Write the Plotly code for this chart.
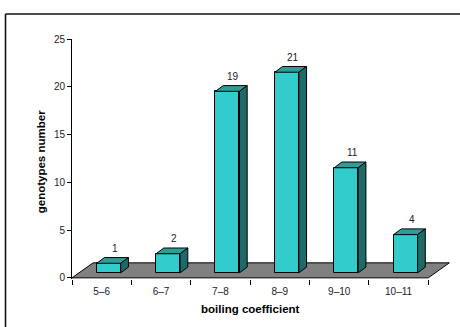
import plotly.graph_objects as go

# Data
categories = ["5–6", "6–7", "7–8", "8–9", "9–10", "10–11"]
counts = [1, 2, 19, 21, 11, 4]
y_ticks = [0, 5, 10, 15, 20, 25]

# Pseudo-3D geometry in axis units
FLOOR_DX, FLOOR_DY = 0.355, 1.57          # floor depth offset
SHIFT_X, SHIFT_Y = FLOOR_DX / 3, FLOOR_DY / 3  # bars stand one third into the floor
BAR_W = 0.404
BAR_DX, BAR_DY = 0.13, 0.6                 # bar depth offset

FRONT = "#33CCCC"
TOP = "#2E9C99"
SIDE = "#1D6A68"
FLOOR = "#808080"
FONT = "Arial, Liberation Sans, sans-serif"

n = len(categories)
centers = [i + 0.5 for i in range(n)]
fx = [c + SHIFT_X for c in centers]

fig = go.Figure()

# front faces
fig.add_trace(go.Bar(
    x=fx, y=counts, base=SHIFT_Y, width=BAR_W,
    marker=dict(color=FRONT, line=dict(color="black", width=1)),
    hoverinfo="skip", showlegend=False,
))

# top and side faces
tx, ty, sx, sy = [], [], [], []
for x, v in zip(fx, counts):
    xl, xr = x - BAR_W / 2, x + BAR_W / 2
    b, t = SHIFT_Y, SHIFT_Y + v
    tx += [xl, xr, xr + BAR_DX, xl + BAR_DX, xl, None]
    ty += [t, t, t + BAR_DY, t + BAR_DY, t, None]
    sx += [xr, xr, xr + BAR_DX, xr + BAR_DX, xr, None]
    sy += [b, t, t + BAR_DY, b + BAR_DY, b, None]

fig.add_trace(go.Scatter(x=tx, y=ty, mode="lines", fill="toself", fillcolor=TOP,
                         line=dict(color="black", width=1), hoverinfo="skip", showlegend=False))
fig.add_trace(go.Scatter(x=sx, y=sy, mode="lines", fill="toself", fillcolor=SIDE,
                         line=dict(color="black", width=1), hoverinfo="skip", showlegend=False))

# value labels
for x, v in zip(fx, counts):
    fig.add_annotation(x=x + 0.1, y=SHIFT_Y + v + BAR_DY + 0.95, text=str(v),
                       showarrow=False, yanchor="middle", xanchor="center",
                       font=dict(family=FONT, size=10, color="#222"))

# floor
floor_path = "M {} 0 L {} 0 L {} {} L {} {} Z".format(
    0, n, n + FLOOR_DX, FLOOR_DY, FLOOR_DX, FLOOR_DY)
shapes = [dict(type="path", path=floor_path, xref="x", yref="y",
               fillcolor=FLOOR, line=dict(color="black", width=1), layer="below")]

# outer frame (top and left edges)
L, R, T, B = 72, 8, 39, 48
PW, PH = 460 - L - R, 327 - T - B
px = lambda p: (p - L) / PW
py = lambda p: 1 + (T - p) / PH
shapes.append(dict(type="line", xref="paper", yref="paper",
                   x0=px(5.5), x1=px(470), y0=py(14), y1=py(14),
                   line=dict(color="#111", width=1.6)))
shapes.append(dict(type="line", xref="paper", yref="paper",
                   x0=px(5.5), x1=px(5.5), y0=py(14), y1=py(340),
                   line=dict(color="#111", width=1.6)))

# axis titles
fig.add_annotation(x=n / 2, xref="x", y=py(309), yref="paper",
                   text="<b>boiling coefficient</b>", showarrow=False,
                   xanchor="center", yanchor="middle",
                   font=dict(family=FONT, size=11.5, color="black"))
fig.add_annotation(x=px(41), xref="paper", y=12.1, yref="y",
                   text="<b>genotypes number</b>", showarrow=False, textangle=-90,
                   xanchor="center", yanchor="middle",
                   font=dict(family=FONT, size=11.5, color="black"))

fig.update_layout(
    width=460, height=327,
    margin=dict(l=L, r=R, t=T, b=B),
    paper_bgcolor="white", plot_bgcolor="white",
    shapes=shapes, bargap=0, showlegend=False,
    xaxis=dict(
        range=[0, n + 0.4], showgrid=False, zeroline=False, showline=False,
        tickvals=centers, ticktext=categories, ticks="",
        ticklabelstandoff=5,
        tickfont=dict(family=FONT, size=10, color="#222"),
        minor=dict(tickvals=list(range(n + 1)), ticks="outside", ticklen=5,
                   tickcolor="black", tickwidth=1, showgrid=False),
    ),
    yaxis=dict(
        range=[-0.12, 25], showgrid=False, zeroline=False,
        showline=True, linecolor="black", linewidth=1,
        tickvals=y_ticks, ticks="outside", ticklen=4, tickcolor="black",
        tickfont=dict(family=FONT, size=10, color="#222"),
    ),
)

fig.write_html("out.html")
